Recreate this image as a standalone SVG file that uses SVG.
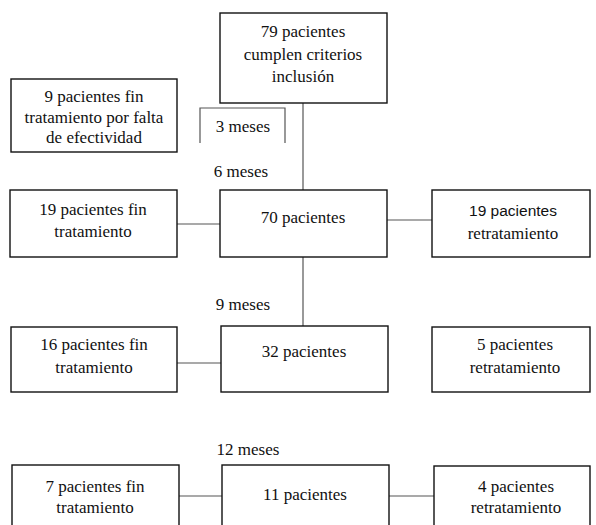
<svg xmlns="http://www.w3.org/2000/svg" width="596" height="525" viewBox="0 0 596 525">
<style>
.box{fill:#fff;stroke:#111;stroke-width:1.4}
.c{stroke:#555;stroke-width:1.2;fill:none}
</style>
<rect width="596" height="525" fill="#fff"/>
<g id="connectors">
<line class="c" x1="303" y1="103" x2="303" y2="190"/>
<line class="c" x1="303" y1="257" x2="303" y2="326"/>
<line class="c" x1="177" y1="224" x2="220" y2="224"/>
<line class="c" x1="387" y1="220" x2="432" y2="220"/>
<line class="c" x1="177" y1="363" x2="221" y2="363"/>
<line class="c" x1="179" y1="496" x2="222" y2="496"/>
<line class="c" x1="389" y1="496" x2="434" y2="496"/>
</g>
<g font-family="Liberation Serif, DejaVu Serif, serif" font-size="17" fill="#111" text-anchor="middle">
<g id="n79"><rect class="box" x="220" y="13" width="167" height="90"/>
<text x="303" y="37">79 pacientes</text><text x="303" y="60">cumplen criterios</text><text x="303" y="82">inclusión</text></g>
<g id="n9"><rect class="box" x="11" y="79" width="166" height="73"/>
<text x="94" y="102">9 pacientes fin</text><text x="94" y="123">tratamiento por falta</text><text x="94" y="143">de efectividad</text></g>
<g id="m3"><path class="c" d="M200,143 V108 H285 V143" stroke="#222"/>
<text x="243" y="132">3 meses</text></g>
<g id="m6"><text x="241" y="177">6 meses</text></g>
<g id="n19f"><rect class="box" x="10" y="190" width="167" height="67"/>
<text x="93" y="215">19 pacientes fin</text><text x="93" y="237">tratamiento</text></g>
<g id="n70"><rect class="box" x="220" y="190" width="167" height="67"/>
<text x="303" y="223">70 pacientes</text></g>
<g id="n19r"><rect class="box" x="432" y="190" width="158" height="67"/>
<text x="513" y="216" font-family="Liberation Sans, DejaVu Sans, sans-serif" font-size="15.5">19 pacientes</text><text x="513" y="239">retratamiento</text></g>
<g id="m9"><text x="243" y="310">9 meses</text></g>
<g id="n16f"><rect class="box" x="11" y="327" width="166" height="65"/>
<text x="94" y="350">16 pacientes fin</text><text x="94" y="373">tratamiento</text></g>
<g id="n32"><rect class="box" x="221" y="326" width="167" height="66"/>
<text x="304" y="357">32 pacientes</text></g>
<g id="n5r"><rect class="box" x="432" y="327" width="158" height="65"/>
<text x="515" y="350">5 pacientes</text><text x="515" y="373">retratamiento</text></g>
<g id="m12"><text x="248" y="455">12 meses</text></g>
<g id="n7f"><rect class="box" x="12" y="465" width="167" height="70"/>
<text x="95" y="492">7 pacientes fin</text><text x="95" y="513">tratamiento</text></g>
<g id="n11"><rect class="box" x="222" y="465" width="167" height="70"/>
<text x="305" y="500">11 pacientes</text></g>
<g id="n4r"><rect class="box" x="434" y="466" width="156" height="70"/>
<text x="516" y="492">4 pacientes</text><text x="516" y="513">retratamiento</text></g>
</g>
</svg>
